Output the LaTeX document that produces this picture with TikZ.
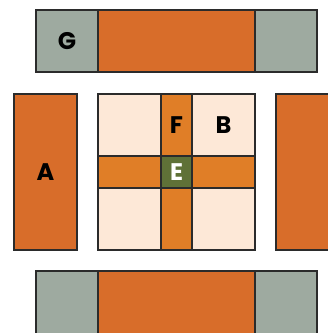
\documentclass[tikz,border=0pt]{standalone}
\usepackage{fontspec}
\usepackage{xcolor}
\usepackage{tikz}
\setmainfont{Poppins}
\definecolor{cRust}{HTML}{D86D2A}
\definecolor{cCross}{HTML}{E07E27}
\definecolor{cPale}{HTML}{FDE8D7}
\definecolor{cSage}{HTML}{9EAAA0}
\definecolor{cMoss}{HTML}{5F7137}
\definecolor{cEdge}{HTML}{2B2B2B}
\newcommand{\pb}[7]{%
  \draw[#5] (#1,#3) rectangle (#2,#4);
  \node[lbl] (#6) at ({(#1+#2)/2},{(#3+#4)/2}) {#7};}

\begin{document}
\begin{tikzpicture}[x=1pt, y=-1pt,
  rust/.style={draw=cEdge, line width=1.3pt, fill=cRust},
  cross/.style={draw=cEdge, line width=1.3pt, fill=cCross},
  pale/.style={draw=cEdge, line width=1.3pt, fill=cPale},
  sage/.style={draw=cEdge, line width=1.3pt, fill=cSage},
  moss/.style={draw=cEdge, line width=1.3pt, fill=cMoss},
  lbl/.style={inner sep=0pt, font=\fontsize{24}{28}\selectfont\bfseries}]
\useasboundingbox (0,0) rectangle (328,333);
\clip (0,0) rectangle (328,333);
% ---- top bar ----
\pb{36}{98}{10}{72}{sage}{gTop}{G}
\pb{98}{255}{10}{72}{rust}{mTop}{}
\pb{255}{317}{10}{72}{sage}{rTop}{}
% ---- side bars ----
\pb{14}{77}{94}{250}{rust}{a}{A}
\pb{276}{345}{94}{250}{rust}{rSide}{}
% ---- the grid: pale quadrants, orange cross, green centre ----
\pb{98}{161}{94}{156}{pale}{q1}{}
\pb{192}{255}{94}{156}{pale}{b}{B}
\pb{98}{161}{188}{250}{pale}{q3}{}
\pb{192}{255}{188}{250}{pale}{q4}{}
\pb{161}{192}{94}{156}{cross}{f}{F}
\pb{161}{192}{188}{250}{cross}{vBot}{}
\pb{98}{161}{156}{188}{cross}{hLeft}{}
\pb{192}{255}{156}{188}{cross}{hRight}{}
\pb{161}{192}{156}{188}{moss}{e}{\textcolor{white}{E}}
% ---- bottom bar ----
\pb{36}{98}{271}{345}{sage}{lBot}{}
\pb{98}{255}{271}{345}{rust}{mBot}{}
\pb{255}{317}{271}{345}{sage}{rBot}{}
\end{tikzpicture}
\end{document}
